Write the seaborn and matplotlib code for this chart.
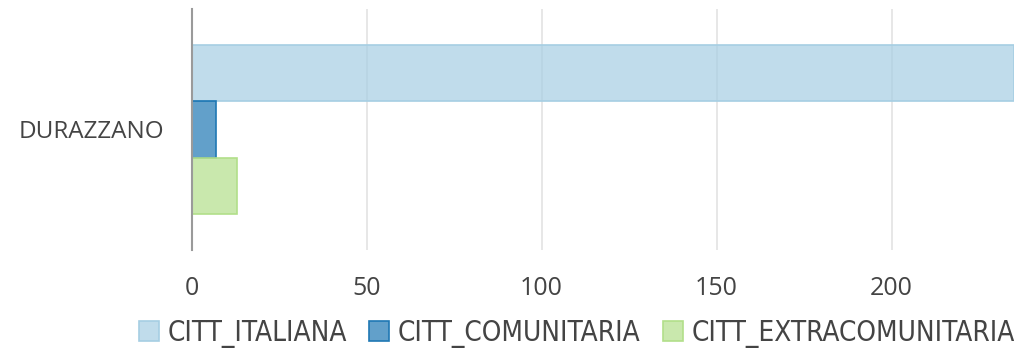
import matplotlib
matplotlib.use("Agg")
import matplotlib.pyplot as plt
import matplotlib.colors as mcolors
import seaborn as sns
import pandas as pd

# Residents of the municipality by citizenship group
comuni = ["DURAZZANO"]
gruppi = ["CITT_ITALIANA", "CITT_COMUNITARIA", "CITT_EXTRACOMUNITARIA"]
valori = [235, 7, 13]
x_ticks = [0, 50, 100, 150, 200]

colori = ["#a6cee3", "#1f78b4", "#b2df8a"]

df = pd.DataFrame({
    "comune": comuni * len(gruppi),
    "cittadinanza": gruppi,
    "valore": valori,
})

sns.set_theme(style="white")
plt.rcParams["font.family"] = ["Open Sans", "DejaVu Sans"]

fig = plt.figure(figsize=(10.14, 3.53), dpi=100)
ax = fig.add_axes([0.189, 0.292, 0.811, 0.683])

sns.barplot(data=df, y="comune", x="valore", hue="cittadinanza",
            hue_order=gruppi, palette=colori, saturation=1, orient="h",
            width=0.7, ax=ax, legend=False)

# translucent fills with solid outlines
for patch in ax.patches:
    base = patch.get_facecolor()[:3]
    patch.set_facecolor((*base, 0.7))
    patch.set_edgecolor(base)
    patch.set_linewidth(1.2)

ax.set_xlim(0, 235)
ax.set_xticks(x_ticks)
ax.set_xlabel("")
ax.set_ylabel("")
ax.grid(axis="x", color="#e3e3e3", linewidth=1.2)
ax.set_axisbelow(True)
for side in ["top", "right", "bottom"]:
    ax.spines[side].set_visible(False)
ax.spines["left"].set_color("#9a9a9a")
ax.spines["left"].set_linewidth(1.5)
ax.tick_params(axis="x", length=0, pad=19, labelsize=18, labelcolor="#444444")
ax.tick_params(axis="y", length=0, pad=20, labelsize=17.5, labelcolor="#444444")

handles = [
    matplotlib.patches.Patch(facecolor=mcolors.to_rgba(c, 0.7), edgecolor=c,
                             linewidth=1.2, label=g)
    for g, c in zip(gruppi, colori)
]
leg = fig.legend(handles=handles, loc="center", bbox_to_anchor=(0.569, 0.055),
                 ncol=3, frameon=False, handlelength=0.72, handleheight=0.72,
                 handletextpad=0.3, columnspacing=0.8, borderpad=0,
                 prop={"family": "DejaVu Sans", "stretch": "condensed", "size": 20})
for t in leg.get_texts():
    t.set_color("#444444")

fig.savefig("out.png", dpi=100)
